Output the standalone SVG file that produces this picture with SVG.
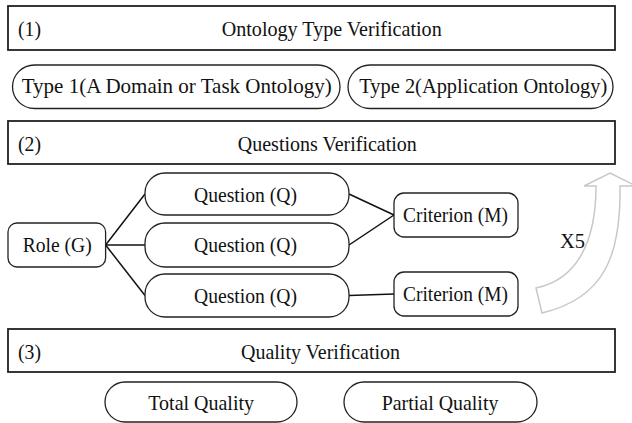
<svg xmlns="http://www.w3.org/2000/svg" width="632" height="423" viewBox="0 0 632 423">
  <style>
    text { font-family: "Liberation Serif", "Times New Roman", serif; font-size: 21.5px; fill: #111; }
    .stage { fill: #fff; stroke: #222; stroke-width: 1.8; }
    .node { fill: #fff; stroke: #222; stroke-width: 1.3; }
    .edge { fill: none; stroke: #111; stroke-width: 1.5; }
    .loop { fill: #fff; stroke: #c8c8c8; stroke-width: 1.5; stroke-linejoin: miter; }
  </style>
  <rect width="632" height="423" fill="#fff"/>

  <!-- Stage 1 -->
  <g id="stage1">
    <rect class="stage" x="8" y="6" width="607" height="44"/>
    <text x="18" y="36" textLength="23" lengthAdjust="spacingAndGlyphs">(1)</text>
    <text x="221.7" y="36" textLength="220" lengthAdjust="spacingAndGlyphs">Ontology Type Verification</text>
  </g>
  <g id="type1">
    <rect class="node" x="12.5" y="65" width="327.5" height="43.5" rx="22"/>
    <text x="21.7" y="92.5" textLength="310" lengthAdjust="spacingAndGlyphs">Type 1(A Domain or Task Ontology)</text>
  </g>
  <g id="type2">
    <rect class="node" x="348" y="65" width="265" height="43.5" rx="22"/>
    <text x="359.3" y="92.5" textLength="248" lengthAdjust="spacingAndGlyphs">Type 2(Application Ontology)</text>
  </g>

  <!-- Stage 2 -->
  <g id="stage2">
    <rect class="stage" x="8" y="121" width="607" height="43"/>
    <text x="18" y="150.5" textLength="23" lengthAdjust="spacingAndGlyphs">(2)</text>
    <text x="237.8" y="150.5" textLength="179" lengthAdjust="spacingAndGlyphs">Questions Verification</text>
  </g>

  <g id="connectors">
    <line class="edge" x1="105.6" y1="245" x2="145" y2="194"/>
    <line class="edge" x1="105.6" y1="245" x2="145" y2="245"/>
    <line class="edge" x1="105.6" y1="245" x2="145" y2="295.5"/>
    <line class="edge" x1="349" y1="194" x2="394" y2="215"/>
    <line class="edge" x1="349" y1="245" x2="394" y2="215"/>
    <line class="edge" x1="349" y1="295.5" x2="394" y2="294"/>
  </g>

  <g id="role">
    <rect class="node" x="8" y="223" width="97.6" height="44" rx="9"/>
    <text x="22.7" y="251.5" textLength="69" lengthAdjust="spacingAndGlyphs">Role (G)</text>
  </g>
  <g id="question1">
    <rect class="node" x="145" y="173" width="204" height="42" rx="20"/>
    <text x="194" y="201.5" textLength="103" lengthAdjust="spacingAndGlyphs">Question (Q)</text>
  </g>
  <g id="question2">
    <rect class="node" x="145" y="223" width="204" height="44" rx="20"/>
    <text x="194" y="252" textLength="103" lengthAdjust="spacingAndGlyphs">Question (Q)</text>
  </g>
  <g id="question3">
    <rect class="node" x="145" y="274" width="204" height="43" rx="20"/>
    <text x="194" y="302.5" textLength="103" lengthAdjust="spacingAndGlyphs">Question (Q)</text>
  </g>
  <g id="criterion1">
    <rect class="node" x="394" y="193" width="124" height="44" rx="10"/>
    <text x="403" y="222" textLength="105" lengthAdjust="spacingAndGlyphs">Criterion (M)</text>
  </g>
  <g id="criterion2">
    <rect class="node" x="394" y="272" width="124" height="44" rx="10"/>
    <text x="403" y="301" textLength="105" lengthAdjust="spacingAndGlyphs">Criterion (M)</text>
  </g>

  <!-- Repeat loop arrow -->
  <g id="repeat">
    <path class="loop" d="M610,173 L636,186 L620,186 C621,255 605,298 542,313 L536,288 C575,280 596,245 596,186 L584,186 Z"/>
    <text x="560" y="248" textLength="25" lengthAdjust="spacingAndGlyphs">X5</text>
  </g>

  <!-- Stage 3 -->
  <g id="stage3">
    <rect class="stage" x="8" y="329" width="607" height="43"/>
    <text x="18" y="358.5" textLength="23" lengthAdjust="spacingAndGlyphs">(3)</text>
    <text x="241" y="358.5" textLength="159" lengthAdjust="spacingAndGlyphs">Quality Verification</text>
  </g>
  <g id="total-quality">
    <rect class="node" x="105" y="382" width="192" height="40" rx="20"/>
    <text x="148.3" y="410" textLength="105.7" lengthAdjust="spacingAndGlyphs">Total Quality</text>
  </g>
  <g id="partial-quality">
    <rect class="node" x="344" y="382" width="193" height="40" rx="20"/>
    <text x="381.7" y="410" textLength="116.7" lengthAdjust="spacingAndGlyphs">Partial Quality</text>
  </g>
</svg>
